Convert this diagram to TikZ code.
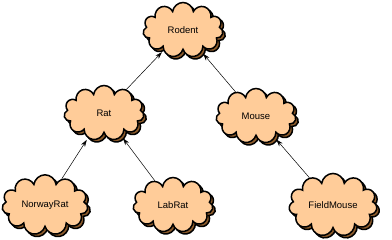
\documentclass[tikz,border=0pt]{standalone}
\usepackage{fontspec}
\setmainfont{Liberation Sans}
\usetikzlibrary{shapes.symbols,shadows,arrows.meta}
\definecolor{cloudfill}{HTML}{FFCC99}
\definecolor{shadowbrown}{HTML}{8B5A2B}
\begin{document}
\begin{tikzpicture}[x=1pt,y=-1pt,
  cloudnode/.style={cloud, cloud puffs=11, cloud puff arc=165, aspect=1.45, draw=black, line width=1.5pt,
    fill=cloudfill, minimum width=80pt, minimum height=55pt, inner sep=0pt,
    font=\fontsize{9.5}{11}\selectfont,
    general shadow={shadow xshift=2.5pt, shadow yshift=-2.5pt, fill=shadowbrown, draw=black, line width=1.5pt}},
  link/.style={-{Stealth[length=7pt,width=4.5pt]}, line width=0.5pt, shorten >=2pt}]
\useasboundingbox (0,0) rectangle (392,240);
\node[cloudnode] (rodent) at (183,30) {Rodent};
\node[cloudnode] (rat) at (104,113) {Rat};
\node[cloudnode] (mouse) at (256,116) {Mouse};
\node[cloudnode, minimum width=86pt] (norway) at (45,205) {NorwayRat};
\node[cloudnode] (labrat) at (173,205) {LabRat};
\node[cloudnode, minimum width=88pt] (field) at (333,205) {FieldMouse};
\draw[link] (rat) -- (rodent);
\draw[link] (mouse) -- (rodent);
\draw[link] (norway) -- (rat);
\draw[link] (labrat) -- (rat);
\draw[link] (field) -- (mouse);
\end{tikzpicture}
\end{document}
